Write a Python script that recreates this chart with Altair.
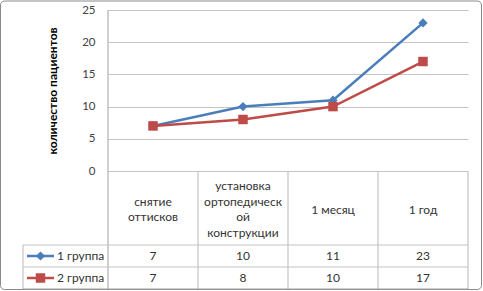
import altair as alt
import pandas as pd

# ---- data ----
categories = ["снятие оттисков", "установка ортопедической конструкции", "1 месяц", "1 год"]
header_labels = ["снятие\nоттисков", "установка\nортопедическ\nой\nконструкции", "1 месяц", "1 год"]
series_names = ["1 группа", "2 группа"]
group1 = [7, 10, 11, 23]
group2 = [7, 8, 10, 17]
y_ticks = [0, 5, 10, 15, 20, 25]
y_title = "количество пациентов"

colors = ["#4A7EBB", "#BE4B48"]
shapes = ["diamond", "square"]
FONT = "Lato"
TXT = "#333333"
GRID = "#c4c4c4"

rows = []
for s, vals in zip(series_names, [group1, group2]):
    for i, (c, v) in enumerate(zip(categories, vals)):
        rows.append({"category": c, "series": s, "value": v, "idx": i})
df = pd.DataFrame(rows)
hdr = pd.DataFrame({"category": categories, "header": header_labels})
hdr["n"] = [h.count("\n") + 1 for h in header_labels]
leg = pd.DataFrame({"series": series_names})
one = pd.DataFrame({"k": [0]})

W, PH, H = 360, 161, 279
LH = 15.5
HDR_MID = 199.5

x_scale = alt.Scale(type="point", domain=categories, padding=0.5)
y_scale = alt.Scale(domain=[0, 25], range=[PH, 0], nice=False, zero=True)
row_scale = alt.Scale(type="point", domain=series_names, range=[235, 279], padding=0.5)
color_scale = alt.Scale(domain=series_names, range=colors)
shape_scale = alt.Scale(domain=series_names, range=shapes)

X = alt.X("category:N", scale=x_scale, axis=None)
COL = alt.Color("series:N", scale=color_scale, legend=None)
SHP = alt.Shape("series:N", scale=shape_scale, legend=None)
ROW = alt.Y("series:N", scale=row_scale, axis=None)

lines = alt.Chart(df).mark_line(strokeWidth=2.5).encode(
    x=X,
    y=alt.Y("value:Q", scale=y_scale, axis=alt.Axis(
        values=y_ticks, grid=True, gridColor=GRID, gridWidth=1.2,
        domain=False, ticks=False, labelPadding=13,
        labelFont=FONT, labelFontSize=11.5, labelColor="#404040",
        title=y_title, titleFont=FONT, titleFontSize=12, titleFontWeight="bold",
        titleColor="#000000", titleAngle=270, titleX=-56, titleY=PH / 2,
        titleAlign="center", titleBaseline="middle")),
    color=COL,
    detail="series:N",
    order="idx:Q",
)

points = alt.Chart(df).mark_point(filled=True, opacity=1).encode(
    x=X,
    y=alt.Y("value:Q", scale=y_scale, axis=None),
    color=COL,
    shape=SHP,
    size=alt.Size("series:N", scale=alt.Scale(domain=series_names, range=[85, 90]), legend=None),
)

# table structure (decoration)
rules = []
def rule(x1, x2, y1, y2, color=GRID, w=1.2):
    if x1 == x2:
        enc = dict(x=alt.value(x1), y=alt.value(y1), y2=alt.value(y2))
    else:
        enc = dict(x=alt.value(x1), x2=alt.value(x2), y=alt.value(y1))
    return alt.Chart(one).mark_rule(color=color, strokeWidth=w).encode(**enc)

rules.append(rule(0, 0, 0, H, color="#b0b0b0"))
for xb in [90, 180, 270, 360]:
    rules.append(rule(xb, xb, PH, H))
rules.append(rule(-85, -85, 235, H))
for yb in [235, 257]:
    rules.append(rule(-85, W, yb, yb))
rules.append(rule(-85, W, H, H, color="#a0a0a0"))

header = alt.Chart(hdr).transform_calculate(
    ytop=f"{HDR_MID} - (datum.n - 1) * {LH / 2}"
).mark_text(
    lineBreak="\n", font=FONT, fontSize=12, color=TXT, lineHeight=LH, baseline="middle"
).encode(x=X, y=alt.Y("ytop:Q", scale=None, axis=None), text="header:N")

values = alt.Chart(df).mark_text(
    font=FONT, fontSize=12, color=TXT, baseline="middle"
).encode(x=X, y=ROW, text="value:Q")

leg_line = alt.Chart(leg).mark_rule(strokeWidth=2.5).encode(
    x=alt.value(-81), x2=alt.value(-54), y=ROW, color=COL)
leg_pt = alt.Chart(leg).mark_point(filled=True, opacity=1).encode(
    x=alt.value(-67.5), y=ROW, color=COL, shape=SHP,
    size=alt.Size("series:N", scale=alt.Scale(domain=series_names, range=[70, 75]), legend=None))
leg_txt = alt.Chart(leg).mark_text(
    align="left", baseline="middle", font=FONT, fontSize=12, color=TXT
).encode(x=alt.value(-51), y=ROW, text="series:N")

border = alt.Chart(one).mark_rect(
    fill="#ffffff", fillOpacity=0, stroke="#8a8a8a", strokeWidth=1, cornerRadius=4
).encode(x=alt.value(-107.5), x2=alt.value(373.5), y=alt.value(-9), y2=alt.value(279.5))

chart = alt.layer(
    border, *rules, lines, points, header, values, leg_line, leg_pt, leg_txt
).resolve_scale(y="independent").properties(
    width=W, height=H,
    autosize=alt.AutoSizeParams(type="none"),
    padding={"left": 108, "top": 10, "right": 15, "bottom": 2},
    background="#ffffff",
).configure_view(stroke=None)

chart.save("out.html", embed_options={"renderer": "svg", "actions": False})
